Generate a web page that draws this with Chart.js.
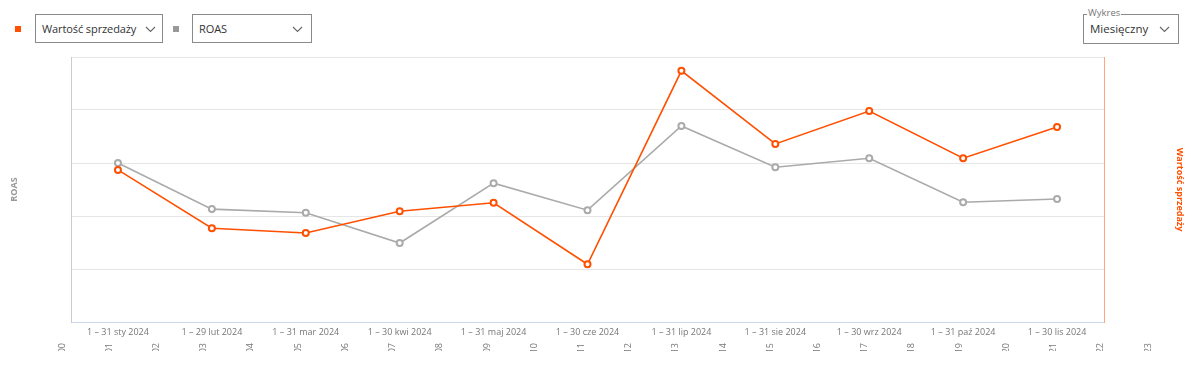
<!DOCTYPE html>
<html>
<head>
<meta charset="utf-8">
<script src="https://cdn.jsdelivr.net/npm/chart.js@4.4.1/dist/chart.umd.min.js"></script>
<style>
body{margin:0;background:#fff;font-family:"Open Sans",sans-serif;width:1194px;height:375px;overflow:hidden;position:relative;}
.sq{position:absolute;width:6px;height:6px;top:26px;}
.sel{position:absolute;top:14px;height:29px;box-sizing:border-box;border:1px solid #8a8a8a;font-size:11px;color:#333;line-height:27px;padding-left:6px;letter-spacing:-0.1px;}
.sel svg{position:absolute;top:11px;}
.fs{position:absolute;left:1083px;top:14px;width:96px;height:30px;box-sizing:border-box;border:1px solid #8a8a8a;}
.fs .lg{position:absolute;left:3px;top:-8px;background:#fff;padding:0 1px;font-size:9.5px;color:#777;line-height:12px;}
.fs .val{position:absolute;left:6px;top:6px;font-size:11.5px;color:#333;line-height:16px;}
.fs svg{position:absolute;top:11px;left:75px;}
#main{position:absolute;left:0;top:50px;}
#hourWrap{position:absolute;left:0;top:342px;width:1194px;height:9px;overflow:hidden;}
#hours{position:absolute;left:0;top:-20px;}
</style>
</head>
<body>
<div class="sq" style="left:15px;background:#ff5000"></div>
<div class="sel" style="left:35px;width:128px">Wartość sprzedaży<svg style="left:109px" width="11" height="7"><polyline points="1,1 5.5,5.5 10,1" fill="none" stroke="#666" stroke-width="1.1"/></svg></div>
<div class="sq" style="left:173px;background:#999"></div>
<div class="sel" style="left:192px;width:120px">ROAS<svg style="left:99px" width="11" height="7"><polyline points="1,1 5.5,5.5 10,1" fill="none" stroke="#666" stroke-width="1.1"/></svg></div>
<div class="fs"><span class="lg">Wykres</span><span class="val">Miesięczny</span><svg width="11" height="7"><polyline points="1,1 5.5,5.5 10,1" fill="none" stroke="#666" stroke-width="1.1"/></svg></div>
<canvas id="main" width="1194" height="290"></canvas>
<div id="hourWrap"><canvas id="hours" width="1194" height="60"></canvas></div>
<script>
const months=['1 – 31 sty 2024','1 – 29 lut 2024','1 – 31 mar 2024','1 – 30 kwi 2024','1 – 31 maj 2024','1 – 30 cze 2024','1 – 31 lip 2024','1 – 31 sie 2024','1 – 30 wrz 2024','1 – 31 paź 2024','1 – 30 lis 2024'];
const salesValue=[28700,17700,16800,20900,22500,10900,47400,33600,39800,30900,36800];
const roas=[3.00,2.13,2.06,1.49,2.62,2.11,3.70,2.92,3.09,2.26,2.32];
const hours=['00','01','02','03','04','05','06','07','08','09','10','11','12','13','14','15','16','17','18','19','20','21','22','23'];

const orange='#ff5000';
const grey='#aaaaaa';

new Chart(document.getElementById('main'),{
type:'line',
data:{
labels:months,
datasets:[{
label:'Wartość sprzedaży',
data:salesValue,
yAxisID:'ySales',
borderColor:orange,
backgroundColor:'#fff',
borderWidth:1.6,
pointRadius:3,
pointBorderWidth:2,
pointBackgroundColor:'#fff',
pointBorderColor:orange,
tension:0
},{
label:'ROAS',
data:roas,
yAxisID:'yRoas',
borderColor:grey,
backgroundColor:'#fff',
borderWidth:1.6,
pointRadius:3,
pointBorderWidth:2,
pointBackgroundColor:'#fff',
pointBorderColor:grey,
tension:0
}]
},
options:{
responsive:false,
animation:false,
layout:{padding:{top:7,left:0,right:0,bottom:0}},
plugins:{legend:{display:false},tooltip:{enabled:false}},
scales:{
x:{
offset:true,
grid:{display:false,drawTicks:false},
border:{color:'#ccd6eb'},
ticks:{color:'#777',font:{family:'Open Sans',size:9},padding:5,maxRotation:0,autoSkip:false},
afterFit:s=>{s.height=18;}
},
yRoas:{
position:'left',
min:0,max:5,
ticks:{display:false,stepSize:1},
grid:{color:'#e6e6e6',drawTicks:false},
border:{color:'#cccccc'},
title:{display:true,text:'ROAS',color:'#999',font:{family:'Open Sans',size:9,weight:'bold'},padding:{top:9,bottom:0}},
afterFit:s=>{s.width=71;}
},
ySales:{
position:'right',
min:0,max:50000,
ticks:{display:false},
grid:{display:false,drawTicks:false},
border:{color:'#ffa77a'},
title:{display:true,text:'Wartość sprzedaży',color:orange,font:{family:'Open Sans',size:9,weight:'bold'},padding:{top:9,bottom:0}},
afterFit:s=>{s.width=90;}
}
}
}
});

// hour axis, clipped by its wrapper like in the original
new Chart(document.getElementById('hours'),{
type:'line',
data:{labels:hours,datasets:[{data:[]}]},
options:{
responsive:false,
animation:false,
layout:{padding:{left:62,right:46,top:0,bottom:0}},
plugins:{legend:{display:false},tooltip:{enabled:false}},
scales:{
x:{
offset:false,
grid:{display:false,drawTicks:false},
border:{display:false},
ticks:{color:'#777',font:{family:'Open Sans',size:9},padding:1,minRotation:90,maxRotation:90,autoSkip:false},
afterFit:s=>{s.height=40;}
},
y:{display:false}
}
}
});
</script>
</body>
</html>
